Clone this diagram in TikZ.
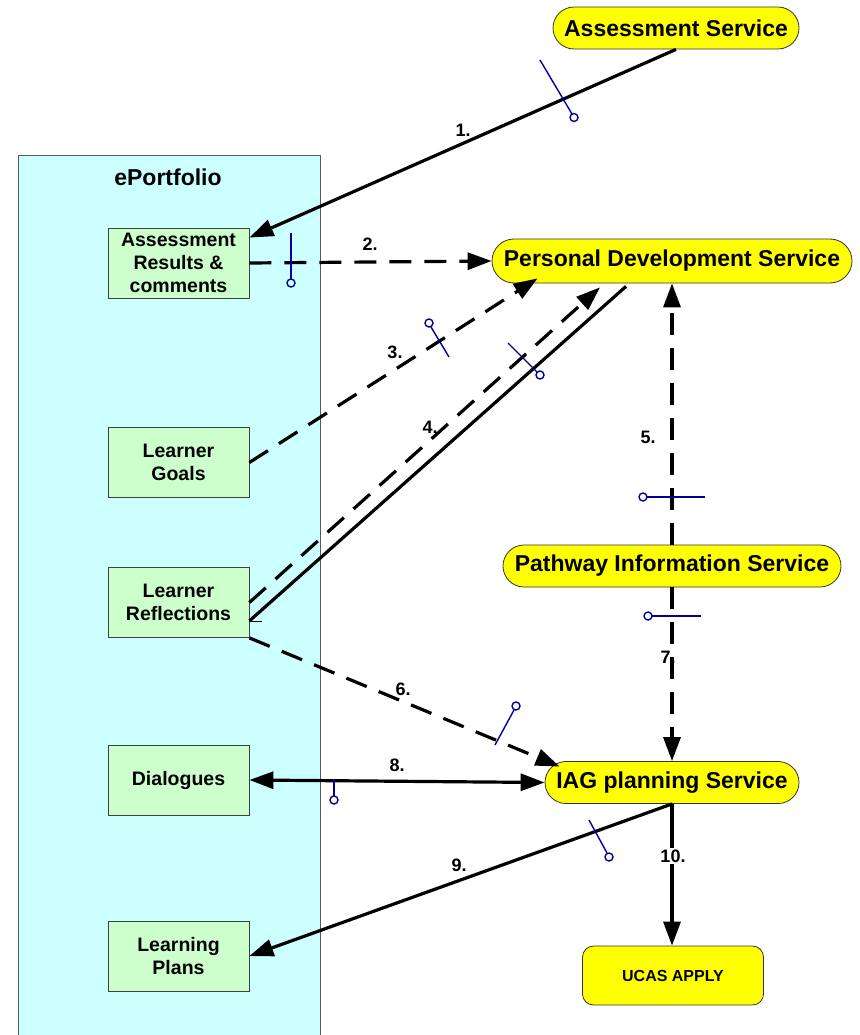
\documentclass[tikz,border=0pt]{standalone}
\usepackage{fontspec}
\setmainfont{Liberation Sans}
\usetikzlibrary{arrows.meta,calc}
\definecolor{portcyan}{HTML}{CCFFFF}
\definecolor{boxgreen}{HTML}{CCFFCC}
\definecolor{pillyellow}{HTML}{FFFF00}
\definecolor{lolblue}{HTML}{000099}
\tikzset{
  pill/.style={draw=black!80, line width=0.8pt, fill=pillyellow, rounded corners=21pt,
    minimum height=42pt, inner sep=0pt, font=\fontsize{23}{26}\selectfont\bfseries},
  gbox/.style={draw=black!75, line width=0.8pt, fill=boxgreen, minimum width=141pt,
    minimum height=70pt, inner sep=0pt, align=center, font=\fontsize{19.5}{23}\selectfont\bfseries},
  num/.style={font=\fontsize{18}{20}\selectfont\bfseries, inner sep=1pt},
  solidcon/.style={line width=3.2pt, draw=black},
  dashcon/.style={line width=3.2pt, draw=black, dash pattern=on 22pt off 13pt},
  tip/.style={-{Triangle[length=24pt,width=17pt]}},
  lol/.style={draw=lolblue, line width=1.4pt}
}
\begin{document}
\begin{tikzpicture}[x=1pt,y=-1pt]
\useasboundingbox (0,0) rectangle (859,1035);
% ePortfolio container
\node[draw=black!65, line width=0.8pt, fill=portcyan, minimum width=302pt, minimum height=900pt, inner sep=0pt, anchor=north west] (ep) at (18,155) {};
\node[font=\fontsize{23}{26}\selectfont\bfseries] (eplabel) at (168,177) {ePortfolio};
% green boxes
\node[gbox] (ar) at (178.5,263) {Assessment\\Results \&\\comments};
\node[gbox] (lg) at (178.5,462.5) {Learner\\Goals};
\node[gbox] (lr) at (178.5,602.5) {Learner\\Reflections};
\node[gbox] (dl) at (178.5,780) {Dialogues};
\node[gbox] (lp) at (178.5,956) {Learning\\Plans};
% services
\node[pill, minimum width=246pt] (as) at (676,28) {Assessment Service};
\node[pill, minimum width=360pt, minimum height=44pt, rounded corners=22pt] (pds) at (672,261) {Personal Development Service};
\node[pill, minimum width=338pt] (pw) at (672,566) {Pathway Information Service};
\node[pill, minimum width=254pt] (iag) at (672,782.5) {IAG planning Service};
\node[draw=black!80, line width=0.8pt, fill=pillyellow, rounded corners=11pt, minimum width=181pt, minimum height=59pt, inner sep=0pt, font=\fontsize{16}{18}\selectfont\bfseries] (uc) at (673,975.5) {UCAS APPLY};
% connectors
\draw[solidcon, tip] (as.south) -- ([yshift=-10pt]ar.north east);
\draw[dashcon, tip] (ar.east) -- (pds.west);
\draw[dashcon, tip] (lg.east) -- ([xshift=46pt,yshift=5pt]pds.south west);
\draw[dashcon, tip] (lr.east) -- ([xshift=-72pt,yshift=-4pt]pds.south);
\draw[solidcon] ([yshift=17pt]lr.south east) -- ([xshift=-46pt,yshift=-3pt]pds.south);
\draw[line width=0.8pt] ([yshift=17pt]lr.south east) -- ++(13,0);
\draw[dashcon, tip] (pw.north) -- (pds.south);
\draw[dashcon, tip] (pw.south) -- (iag.north);
\draw[dashcon, tip] (lr.south east) -- ([xshift=15pt,yshift=16pt]iag.west);
\draw[solidcon, {Triangle[length=24pt,width=17pt]}-{Triangle[length=24pt,width=17pt]}] (dl.east) -- (iag.west);
\draw[solidcon, tip] (iag.south) -- (lp.east);
\draw[solidcon, tip] (iag.south) -- (iag.south |- uc.north);
% labels
\node[num] (n1) at (463,130) {1.};
\node[num] (n2) at (370,244) {2.};
\node[num] (n3) at (395,352) {3.};
\node[num] (n4) at (430,427) {4.};
\node[num] (n5) at (648,437) {5.};
\node[num] (n6) at (403,689) {6.};
\node[num] (n7) at (668,657) {7.};
\node[num] (n8) at (397,765) {8.};
\node[num] (n9) at (459,865) {9.};
\node[num, fill=white, inner sep=2pt] (n10) at (673,856) {10.};
% lollipops
\draw[lol] (540,60) -- (572,114); \draw[lol] (574,117.5) circle (4pt);
\draw[lol] (291,233) -- (291,279); \draw[lol] (291,283) circle (4pt);
\draw[lol] (431,327) -- (449,357); \draw[lol] (429,323) circle (4pt);
\draw[lol] (508,343) -- (537,372); \draw[lol] (540,375) circle (4pt);
\draw[lol] (647,497) -- (705,497); \draw[lol] (643,497) circle (4pt);
\draw[lol] (652,616) -- (701,616); \draw[lol] (648,616) circle (4pt);
\draw[lol] (514,710) -- (495,745); \draw[lol] (516,706) circle (4pt);
\draw[lol] (334,779) -- (334,796); \draw[lol] (334,800) circle (4pt);
\draw[lol] (589,820) -- (607,853); \draw[lol] (609,857) circle (4pt);
\end{tikzpicture}
\end{document}
